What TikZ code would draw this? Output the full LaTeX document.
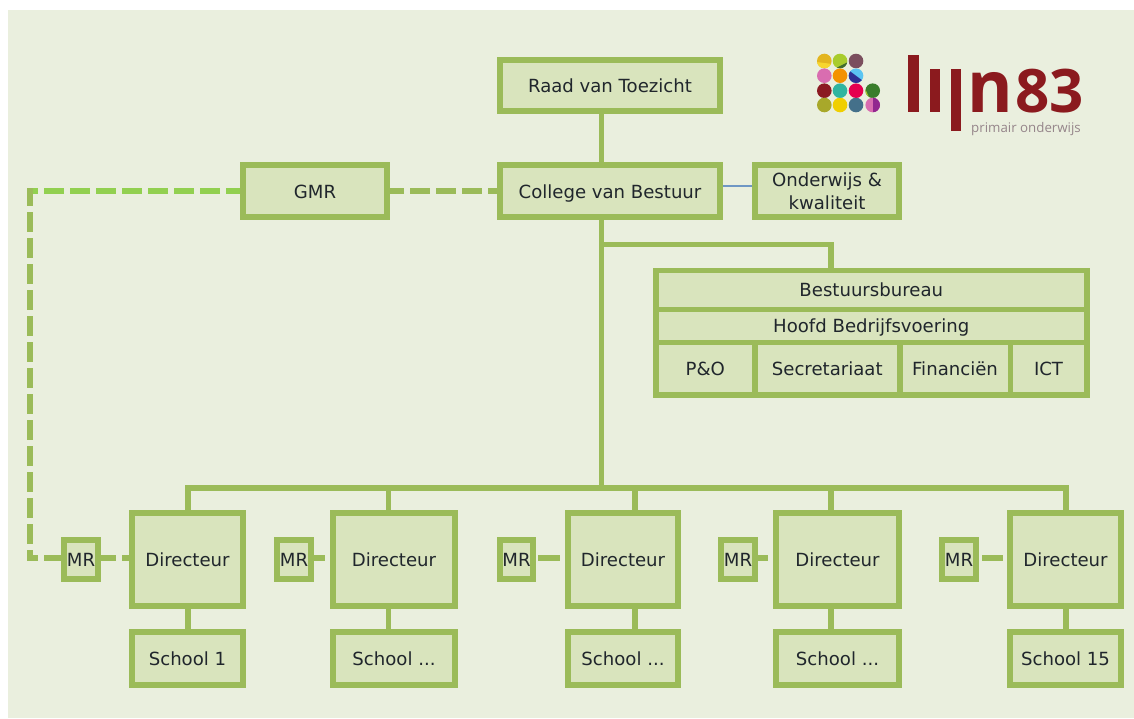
\documentclass[tikz,border=0pt]{standalone}
\usepackage{fontspec}
\setmainfont{DejaVu Sans}
\newfontfamily\logofont{Open Sans}
\definecolor{panel}{HTML}{EAEFDE}
\definecolor{cellfill}{HTML}{D9E4BD}
\definecolor{olive}{HTML}{9BBB59}
\definecolor{bright}{HTML}{92D050}
\definecolor{wire}{HTML}{6F97C4}
\definecolor{ink}{HTML}{20262C}
\definecolor{logored}{HTML}{8B1A1E}
\definecolor{logogrey}{HTML}{95858A}
\definecolor{yellowA}{HTML}{E3B51F}
\definecolor{yellowB}{HTML}{F7D62E}
\definecolor{limeA}{HTML}{A8CC2C}
\definecolor{limeB}{HTML}{3F6B2E}
\definecolor{mauve}{HTML}{7B4F5E}
\definecolor{pinkA}{HTML}{D96DB0}
\definecolor{orangeA}{HTML}{F39200}
\definecolor{skyA}{HTML}{5BC5F2}
\definecolor{navyA}{HTML}{2E3192}
\definecolor{redA}{HTML}{8B1A22}
\definecolor{tealA}{HTML}{2FB5A0}
\definecolor{crimsonA}{HTML}{E5004F}
\definecolor{greenA}{HTML}{3A7D2C}
\definecolor{oliveA}{HTML}{A8A82A}
\definecolor{yellowC}{HTML}{F0CF00}
\definecolor{slateA}{HTML}{44708A}
\definecolor{purpleA}{HTML}{92278F}
\tikzset{
  cellbox/.style={draw=olive,fill=cellfill,text=ink,align=center,inner sep=0pt,
    text height=14pt,text depth=0pt,
    font=\fontsize{18.1}{23}\selectfont},
  conn/.style={draw=olive,line width=5.5pt,line cap=butt,line join=miter},
  dashbase/.style={line width=6pt,line cap=butt},
  gmrdash/.style={dashbase,draw=olive,dash pattern=on 20pt off 6pt}
}
\def\lw{6}
\newcommand{\bx}[7][]{\node[cellbox,line width=\lw pt,
  minimum width={(#5)-(#3)-\lw},minimum height={(#6)-(#4)-\lw},#1]
  (#2) at ({((#3)+(#5))/2},{((#4)+(#6))/2}) {#7};}
\newcommand{\logodot}[3]{\fill[#3] (#1,#2) circle [radius=7.3];}
\newcommand{\logoslice}[4]{%
  \begin{scope}[shift={(#1,#2)}]\clip (0,0) circle [radius=7.3];
  \fill[#3] #4;\end{scope}}
\begin{document}
\begin{tikzpicture}[x=1pt,y=-1pt]
\useasboundingbox (0,0) rectangle (1134,718);
\fill[white] (0,0) rectangle (1134,718);
\fill[panel] (8,10) rectangle (1134,718);

% boxes
\bx{raad}{497}{57}{723}{114}{Raad van Toezicht}
\bx{col}{497}{162}{723}{220}{College van Bestuur}
\bx{gmr}{240}{162}{390}{220}{GMR}
\bx[text height=,text depth=]{ow}{752}{162}{902}{220}{Onderwijs \&\\kwaliteit}

\def\lw{5.5}
\bx{bb}{653}{267.5}{1089.5}{312}{Bestuursbureau}
\bx{hb}{653}{306.5}{1089.5}{345}{Hoofd Bedrijfsvoering}
\bx{po}{653}{339.5}{757.5}{397.5}{P\&O}
\bx{sec}{752}{339.5}{902.5}{397.5}{Secretariaat}
\bx{fin}{897}{339.5}{1013}{397.5}{Financiën}
\bx{ict}{1007.5}{339.5}{1089.5}{397.5}{ICT}
\def\lw{6}

\bx{dirA}{129}{510}{246}{609}{Directeur}
\bx{dirB}{330}{510}{458}{609}{Directeur}
\bx{dirC}{565}{510}{681}{609}{Directeur}
\bx{dirD}{773}{510}{902}{609}{Directeur}
\bx{dirE}{1007}{510}{1124}{609}{Directeur}

\bx{schA}{129}{629}{246}{688}{School 1}
\bx{schB}{330}{629}{458}{688}{School ...}
\bx{schC}{565}{629}{681}{688}{School ...}
\bx{schD}{773}{629}{902}{688}{School ...}
\bx{schE}{1007}{629}{1124}{688}{School 15}

\bx{mrA}{61}{536.5}{101}{582}{MR}
\bx{mrB}{274}{536.5}{314}{582}{MR}
\bx{mrC}{497}{536.5}{536}{582}{MR}
\bx{mrD}{718}{536.5}{758}{582}{MR}
\bx{mrE}{939}{536.5}{979}{582}{MR}

% routing points
\coordinate (trunk) at (601.5,488);
\coordinate (branch) at (601.5,244.5);
\coordinate (branchEnd) at (831,244.5);
\coordinate (busL) at (185,488);
\coordinate (busR) at (1069,488);
\coordinate (dA) at (188,488);
\coordinate (dB) at (388.5,488);
\coordinate (dC) at (635,488);
\coordinate (dD) at (831,488);
\coordinate (dE) at (1066,488);
\coordinate (topCorner) at (30,191);
\coordinate (topCornerUp) at (30,188);
\coordinate (lowCorner) at (30,558.3);
\coordinate (lowCornerDown) at (30,561.3);
\coordinate (wireLevel) at (0,186);

% solid connectors
\draw[conn] (raad.south -| trunk) -- (col.north -| trunk);
\draw[conn] (col.south -| trunk) -- (trunk);
\draw[conn] (branch) -- (branchEnd) -- (branchEnd |- bb.north);
\draw[conn,line width=6pt] (busL) -- (busR);
\foreach \d/\a/\b in {dA/dirA/schA,dB/dirB/schB,dC/dirC/schC,dD/dirD/schD,dE/dirE/schE}{
  \draw[conn] (\d) -- (\d |- \a.north);
  \draw[conn] (\d |- \a.south) -- (\d |- \b.north);
}
\draw[wire,line width=1.1pt] (col.east |- wireLevel) -- (ow.west |- wireLevel);

% dashed connectors
\draw[dashbase,draw=bright,dash pattern=on 20pt off 6pt,dash phase=12pt] (topCorner) -- (gmr.west |- topCorner);
\draw[gmrdash,dash phase=2pt] (topCornerUp) -- (lowCornerDown);
\draw[gmrdash,dash phase=12pt] (lowCorner) -- (mrA.west |- lowCorner);
\draw[gmrdash,dash phase=6pt] (gmr.east |- topCorner) -- (col.west |- topCorner);
\draw[dashbase,draw=olive,dash pattern=on 15pt off 6pt] (mrA.east |- lowCorner) -- (dirA.west |- lowCorner);
\draw[dashbase,draw=olive,dash pattern=on 11pt off 5pt] (mrB.east |- lowCorner) -- (dirB.west |- lowCorner);
\draw[dashbase,draw=olive,dash pattern=on 22pt off 5pt,dash phase=25pt] (mrC.east |- lowCorner) -- (dirC.west |- lowCorner);
\draw[dashbase,draw=olive,dash pattern=on 10pt off 5pt] (mrD.east |- lowCorner) -- (dirD.west |- lowCorner);
\draw[dashbase,draw=olive,dash pattern=on 21pt off 4pt,dash phase=22pt] (mrE.east |- lowCorner) -- (dirE.west |- lowCorner);

% logo
\logodot{824.3}{61}{yellowA}
\logoslice{824.3}{61}{yellowB}{(-8,1) -- (8,3) -- (8,8) -- (-8,8) -- cycle}
\logodot{840}{61}{limeA}
\logoslice{840}{61}{limeB}{(-6,8) -- (8,1) -- (8,8) -- cycle}
\logodot{856}{61}{mauve}
\logodot{824.3}{75.7}{pinkA}
\logodot{840}{75.7}{orangeA}
\logodot{856}{75.7}{skyA}
\logoslice{856}{75.7}{navyA}{(-8,-6) -- (8,6) -- (8,8) -- (-8,8) -- cycle}
\logodot{824.3}{90.7}{redA}
\logodot{840}{90.7}{tealA}
\logodot{856}{90.7}{crimsonA}
\logodot{872.7}{90.7}{greenA}
\logoslice{872.7}{90.7}{limeA}{(-8,-3) -- (-3,8) -- (-8,8) -- cycle}
\logodot{824.3}{105}{oliveA}
\logodot{840}{105}{yellowC}
\logodot{856}{105}{slateA}
\logodot{872.7}{105}{pinkA}
\logoslice{872.7}{105}{purpleA}{(0,-8) -- (8,-8) -- (8,8) -- (0,8) -- cycle}
\fill[logored] (908,55) rectangle (919,112);
\fill[logored] (930,69) rectangle (939.5,112);
\fill[logored] (951,69) rectangle (961,131);
\node[anchor=base west,inner sep=0pt,text=logored,xscale=0.965] (logoN) at (967.6,112)
  {\logofont\bfseries\fontsize{72}{72}\selectfont n};
\node[anchor=base west,inner sep=0pt,text=logored] (logoD) at (1015,112)
  {\logofont\bfseries\fontsize{60}{60}\selectfont 83};
\node[anchor=base west,inner sep=0pt,text=logogrey] (logoT) at (971,132.5)
  {\logofont\fontsize{13.3}{14}\selectfont primair onderwijs};
\end{tikzpicture}
\end{document}
